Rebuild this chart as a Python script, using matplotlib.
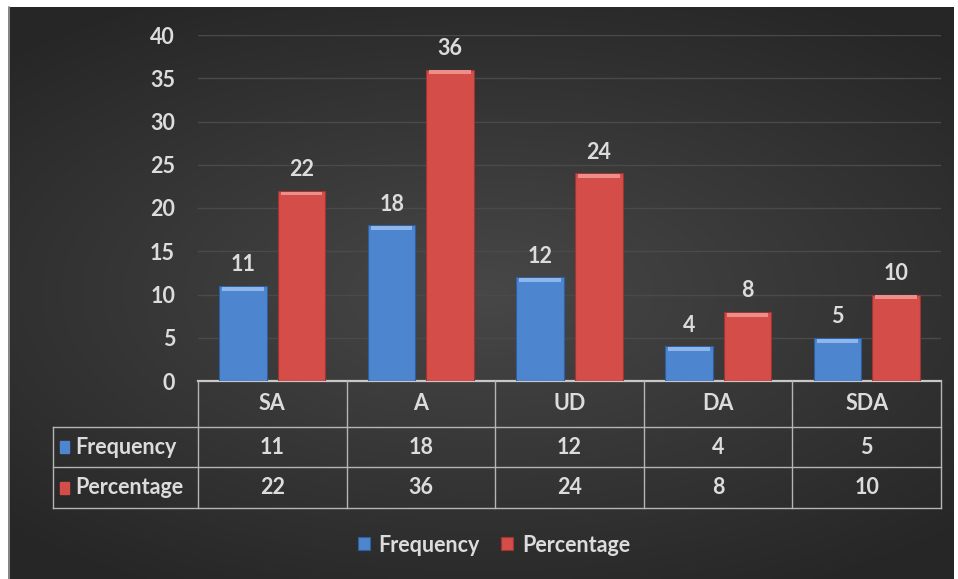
import numpy as np
import matplotlib.pyplot as plt
from matplotlib.patches import Rectangle
from matplotlib.transforms import blended_transform_factory

categories = ['SA', 'A', 'UD', 'DA', 'SDA']
frequency = [11, 18, 12, 4, 5]
percentage = [22, 36, 24, 8, 10]
series_names = ['Frequency', 'Percentage']
yticks = [0, 5, 10, 15, 20, 25, 30, 35, 40]

blue = '#4d85cf'
red = '#d54d48'
txt = '#dcdcdc'
grid = '#4a4a4a'
FONT = ['Lato', 'DejaVu Sans']
FS = 15.5
FW = 'bold'

W, H = 958, 579
fig = plt.figure(figsize=(W / 100, H / 100), dpi=100)
fig.patch.set_facecolor('white')

# dark background with a soft lighter middle
bg = fig.add_axes([8 / W, 0, (954 - 8) / W, 1 - 7 / H], zorder=-10)
gx = np.linspace(-1, 1, 300)
gy = np.linspace(-1, 1, 200)
X, Y = np.meshgrid(gx, gy)
r = np.sqrt((X * 0.9) ** 2 + (Y * 1.1) ** 2)
shade = 0.28 - 0.13 * np.clip(r, 0, 1.3) / 1.3
bg.imshow(np.dstack([shade] * 3), aspect='auto', extent=(0, 1, 0, 1))
bg.set_axis_off()
fig.add_artist(plt.Line2D([8.5 / W, 8.5 / W], [0, 1 - 7 / H], color='#9a9a9a', lw=1.2))

left, right, bottom, top = 198, 941, 381, 35
ax = fig.add_axes([left / W, 1 - bottom / H, (right - left) / W, (bottom - top) / H])
ax.set_facecolor('none')

x = np.arange(len(categories))
bw = 0.32
off = 0.197
b1 = ax.bar(x - off, frequency, bw, color=blue, edgecolor='#2f5f9f', lw=0.8, zorder=3)
b2 = ax.bar(x + off, percentage, bw, color=red, edgecolor='#9e3532', lw=0.8, zorder=3)

# bevel highlight on top of the bars
for bars, hl in ((b1, '#8fb6ea'), (b2, '#ec8f8b')):
    for b in bars:
        ax.add_patch(Rectangle((b.get_x() + 0.02, b.get_height() - 0.55), b.get_width() - 0.04, 0.45,
                               color=hl, zorder=4, lw=0))

for bars, vals in ((b1, frequency), (b2, percentage)):
    for b, v in zip(bars, vals):
        ax.text(b.get_x() + b.get_width() / 2, v + 1.2, str(v), ha='center', va='bottom',
                color=txt, fontsize=FS, family=FONT, weight=FW)

ax.set_xlim(-0.5, len(categories) - 0.5)
ax.set_ylim(0, 40)
ax.set_yticks(yticks)
ax.set_yticklabels([str(t) for t in yticks], color=txt, fontsize=FS, family=FONT, weight=FW)
ax.tick_params(axis='y', length=0, pad=16.5)
ax.set_xticks([])
ax.yaxis.grid(True, color=grid, lw=1)
ax.set_axisbelow(True)
for s in ax.spines.values():
    s.set_visible(False)

# data table under the chart
tr = blended_transform_factory(ax.transData, ax.transAxes)
px = (right - left) / len(categories)
xl = -0.5 - (left - 53) / px
def fy(py):
    return (bottom - py) / (bottom - top)
rows = [381, 427, 467, 508]
lc = '#b5b5b5'
ax.plot([-0.5, len(categories) - 0.5], [fy(381)] * 2, color='#c8c8c8', lw=1.6, transform=tr, clip_on=False)
for yy in rows[1:]:
    ax.plot([xl, len(categories) - 0.5], [fy(yy)] * 2, color=lc, lw=1, transform=tr, clip_on=False)
for i in range(len(categories) + 1):
    ax.plot([i - 0.5] * 2, [fy(381), fy(508)], color=lc, lw=1, transform=tr, clip_on=False)
ax.plot([xl] * 2, [fy(427), fy(508)], color=lc, lw=1, transform=tr, clip_on=False)

for i, c in enumerate(categories):
    for val, yy in ((c, 404), (frequency[i], 447), (percentage[i], 488)):
        ax.text(i, fy(yy), str(val), ha='center', va='center', color=txt, fontsize=FS,
                family=FONT, weight=FW, transform=tr)

for name, col, yy in ((series_names[0], blue, 447), (series_names[1], red, 488)):
    ax.add_patch(Rectangle((xl + 0.05, fy(yy) - 0.016), 0.06, 0.032, color=col, transform=tr, clip_on=False))
    ax.text(xl + 0.15, fy(yy), name, ha='left', va='center', color=txt, fontsize=FS,
            family=FONT, weight=FW, transform=tr)

# legend
leg = ax.legend([b1, b2], series_names, loc='center', bbox_to_anchor=((494 - left) / (right - left), fy(545)),
                ncol=2, frameon=False, handlelength=0.55, handleheight=0.55, handletextpad=0.4,
                columnspacing=1.0, prop={'family': FONT, 'size': FS, 'weight': FW})
for t in leg.get_texts():
    t.set_color(txt)

fig.savefig('out.png', dpi=100, facecolor=fig.get_facecolor())
